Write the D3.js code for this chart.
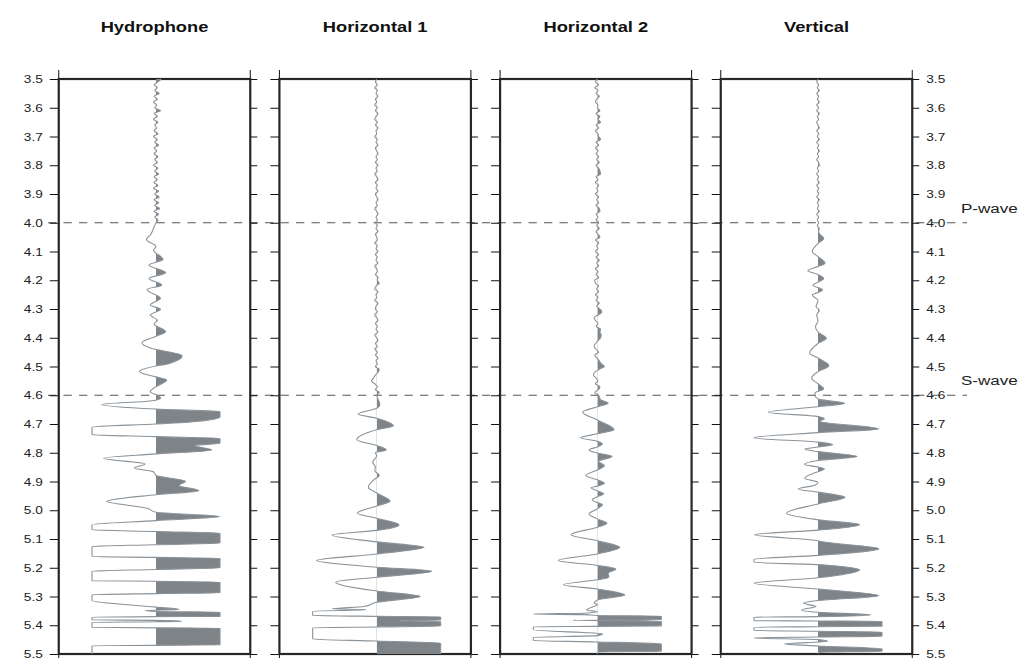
<!DOCTYPE html>
<html>
<head>
<meta charset="utf-8">
<script src="https://cdn.jsdelivr.net/npm/d3@7"></script>
<style>
  body { margin: 0; background: #fff; }
  svg { display: block; }
  text { font-family: "Liberation Sans", Arial, Helvetica, sans-serif; }
</style>
</head>
<body>
<svg id="chart" width="1023" height="663"></svg>
<script>
const channels = ["Hydrophone", "Horizontal 1", "Horizontal 2", "Vertical"];
const timeTicks = [3.5, 3.6, 3.7, 3.8, 3.9, 4.0, 4.1, 4.2, 4.3, 4.4, 4.5, 4.6, 4.7, 4.8, 4.9, 5.0, 5.1, 5.2, 5.3, 5.4, 5.5];
const phaseNames = ["P-wave", "S-wave"];
const phaseTimes = [4.0, 4.6];

// quiet part of each trace, one sample every 0.01 s from 3.5 s
const noiseStart = 3.5;
const noiseStep = 0.01;

const hydroNoise = [
  0.08, 0.03, -0.03, 0.02, -0.02, 0.05, -0.03, 0.02, -0.04, 0.01,
  -0.02, 0.07, -0.03, 0.02, -0.04, 0.03, -0.02, 0.01, -0.03, 0.03,
  -0.04, 0.02, -0.02, 0.04, -0.03, 0.01, -0.03, 0.03, -0.02, 0.02,
  -0.04, 0.03, -0.02, 0.04, -0.03, 0.02, -0.03, 0.03, -0.04, 0.04,
  -0.02, 0.05, -0.03, 0.04, -0.02, 0.06, -0.03, 0.04, -0.02, 0.03,
  0.00
];
// [time, amplitude] after the quiet part; amplitude 1 = clip
const hydroPicks = [
  [4.02, -0.04], [4.04, -0.08], [4.058, -0.15], [4.083, 0.0], [4.095, -0.04], [4.128, 0.11],
  [4.147, -0.11], [4.174, 0.15], [4.194, -0.11], [4.217, 0.09], [4.232, -0.14], [4.263, 0.07],
  [4.286, -0.09], [4.301, 0.07], [4.321, -0.09], [4.339, 0.02], [4.352, -0.03], [4.379, 0.15],
  [4.395, 0.0], [4.417, -0.22], [4.435, -0.1], [4.463, 0.41], [4.49, 0.2], [4.498, 0.0],
  [4.518, -0.26], [4.536, 0.0], [4.547, 0.17], [4.556, 0.12], [4.57, 0.0], [4.588, -0.09],
  [4.603, 0.05], [4.61, 0.07], [4.62, -0.1], [4.632, -0.85], [4.648, 0], [4.657, 1],
  [4.676, 1], [4.694, 0.5], [4.70, 0], [4.711, -1], [4.737, -1], [4.744, 0], [4.75, 1],
  [4.767, 1], [4.775, 0.6], [4.79, 0.87], [4.804, 0], [4.819, -0.82], [4.839, -0.17],
  [4.853, -0.34], [4.866, -0.04], [4.879, 0], [4.899, 0.46], [4.914, 0.36], [4.932, 0.67],
  [4.946, 0], [4.969, -0.77], [4.993, -0.14], [5.007, 0], [5.022, 1], [5.036, 0], [5.05, -1],
  [5.068, -1], [5.074, 0], [5.08, 1], [5.114, 1], [5.12, 0], [5.126, -1], [5.161, -1],
  [5.164, 0], [5.167, 1], [5.20, 1], [5.206, 0], [5.212, -1], [5.245, -1], [5.247, 0],
  [5.25, 1], [5.287, 1], [5.29, 0], [5.294, -1], [5.314, -1], [5.337, 0], [5.345, 0.36],
  [5.349, -0.17], [5.352, 0], [5.354, 1], [5.369, 1], [5.37, 0], [5.372, -1], [5.381, -1],
  [5.383, 0], [5.386, 0.4], [5.388, 0], [5.39, -1], [5.407, -1], [5.409, 0], [5.41, 1],
  [5.468, 1], [5.47, 0], [5.471, -1], [5.5, -1]
];

const h1Noise = [
  0.00, -0.02, 0.01, -0.03, 0.01, -0.01, 0.02, -0.02, 0.00, -0.03,
  0.01, -0.02, 0.02, -0.01, -0.03, 0.01, -0.02, 0.02, -0.01, 0.00,
  -0.03, 0.01, -0.01, 0.02, -0.02, 0.00, 0.02, -0.01, 0.01, -0.02,
  0.02, -0.01, 0.01, -0.03, 0.00, 0.02, -0.02, 0.01, -0.01, 0.02,
  -0.02, 0.00, 0.02, -0.01, 0.01, -0.03, 0.00, 0.02, -0.01, 0.01,
  -0.02, 0.01, -0.01, 0.02, -0.02, 0.00, 0.01, -0.03, 0.01, -0.01,
  0.02, -0.02, 0.01, -0.01, 0.02, -0.03, 0.00, 0.01, -0.02, 0.02,
  0.01, 0.04, -0.01, -0.03, 0.02, -0.01, 0.00, -0.03, 0.02, -0.01,
  -0.02, 0.01, -0.03, 0.00, 0.02, -0.02, 0.01, -0.01, 0.02, -0.03,
  0.00, 0.02, -0.02, 0.01, -0.03, 0.01, -0.02, 0.02, -0.01, 0.01,
  -0.02, 0.04, 0.02, -0.02, -0.05, -0.08, -0.03, 0.01, -0.02, 0.04,
  0.00
];
const h1Picks = [
  [4.632, 0.05], [4.645, 0], [4.665, -0.29], [4.68, 0], [4.706, 0.26], [4.72, 0],
  [4.755, -0.31], [4.775, 0], [4.79, 0.15], [4.80, -0.02], [4.81, 0.0], [4.833, -0.06],
  [4.85, -0.02], [4.862, -0.03], [4.879, 0.04], [4.895, -0.05], [4.92, -0.13], [4.94, 0],
  [4.969, 0.21], [4.985, 0], [5.01, -0.30], [5.028, 0], [5.051, 0.35], [5.07, 0],
  [5.086, -0.70], [5.11, 0], [5.129, 0.74], [5.152, 0], [5.175, -0.94], [5.198, 0],
  [5.212, 0.86], [5.233, 0], [5.25, -0.64], [5.281, 0], [5.30, 0.68], [5.32, 0],
  [5.335, -0.2], [5.343, -0.69], [5.346, -0.16], [5.351, -1], [5.366, -1], [5.369, 0],
  [5.371, 1], [5.382, 1], [5.384, 0.36], [5.387, 1], [5.403, 1], [5.406, 0], [5.409, -1],
  [5.448, -1], [5.455, 0], [5.462, 1], [5.5, 1]
];

const h2Noise = [
  0.00, -0.03, 0.02, -0.04, 0.01, -0.02, 0.03, -0.01, -0.03, 0.01,
  0.00, 0.04, -0.02, 0.04, 0.01, 0.05, -0.02, 0.02, -0.03, 0.01,
  0.02, 0.05, -0.02, 0.02, -0.03, 0.01, -0.02, 0.02, -0.01, 0.03,
  -0.02, 0.02, 0.04, 0.05, -0.02, 0.01, -0.03, 0.02, -0.01, 0.01,
  -0.03, 0.02, -0.01, 0.02, -0.02, 0.03, 0.04, -0.02, 0.01, -0.02,
  0.02, -0.01, 0.03, -0.02, 0.01, 0.04, -0.03, 0.02, -0.01, 0.01,
  -0.03, 0.02, -0.02, 0.03, -0.01, 0.02, -0.03, 0.01, -0.02, 0.02,
  -0.04, -0.03, 0.02, -0.01, 0.02, -0.03, 0.01, -0.02, 0.03, -0.01,
  0.04, 0.07, 0.02, -0.05, -0.03, 0.01, -0.02, 0.05, 0.04, 0.06,
  0.05, 0.01, -0.03, -0.05, -0.02, 0.02, -0.04, -0.01, 0.03, 0.06,
  0.11, 0.03, -0.04, -0.06, -0.02, 0.01, -0.03, 0.04, 0.02, -0.04,
  0.02
];
const h2Picks = [
  [4.615, 0.05], [4.628, 0.17], [4.64, 0], [4.659, -0.23], [4.686, 0], [4.72, 0.26],
  [4.734, 0], [4.748, -0.26], [4.76, 0], [4.769, 0.08], [4.78, 0], [4.79, -0.13],
  [4.801, 0], [4.813, 0.23], [4.83, 0.02], [4.845, 0.11], [4.86, 0], [4.879, -0.18],
  [4.894, 0], [4.906, 0.11], [4.916, 0], [4.922, -0.1], [4.932, 0], [4.943, 0.1],
  [4.953, 0], [4.964, -0.08], [4.973, 0], [4.981, 0.08], [4.995, 0], [5.013, -0.13],
  [5.03, 0], [5.045, 0.15], [5.059, 0], [5.085, -0.41], [5.106, 0], [5.129, 0.35],
  [5.152, 0], [5.175, -0.61], [5.192, 0], [5.204, 0.29], [5.219, 0.17], [5.233, 0.18],
  [5.242, 0], [5.259, -0.53], [5.274, 0], [5.295, 0.43], [5.312, 0], [5.323, -0.05],
  [5.328, 0.0], [5.347, -0.17], [5.353, 0], [5.358, -0.2], [5.361, -1], [5.363, -0.2],
  [5.366, 0], [5.368, 1], [5.381, 1], [5.383, -0.38], [5.386, 1], [5.402, 1], [5.404, 0],
  [5.405, -1], [5.416, -1], [5.43, 0.08], [5.436, 0], [5.442, -1], [5.453, -1], [5.458, 0],
  [5.465, 1], [5.49, 1], [5.493, 0], [5.5, 0]
];

const vertNoise = [
  0.00, -0.02, 0.01, -0.01, 0.02, -0.02, 0.01, -0.01, 0.02, -0.02,
  0.01, -0.02, 0.02, -0.01, 0.01, -0.02, 0.00, 0.02, -0.02, 0.01,
  -0.01, 0.02, -0.02, 0.01, -0.01, 0.02, -0.01, 0.01, -0.02, 0.01,
  0.02, -0.01, 0.01, -0.02, 0.01, -0.01, 0.02, -0.02, 0.01, -0.01,
  0.01, -0.02, 0.02, -0.01, 0.01, -0.01, 0.02, -0.02, 0.01, -0.01,
  0.01, -0.01, 0.02, 0.01
];
const vertPicks = [
  [4.04, 0.03], [4.055, 0.09], [4.072, 0], [4.10, -0.09], [4.118, 0], [4.141, 0.11],
  [4.152, 0], [4.167, -0.16], [4.18, 0], [4.194, 0.09], [4.21, -0.03], [4.217, -0.08],
  [4.234, 0.07], [4.252, -0.09], [4.27, 0], [4.292, -0.03], [4.304, 0.02], [4.321, -0.02],
  [4.34, 0], [4.362, -0.04], [4.38, 0], [4.402, 0.13], [4.42, 0], [4.454, -0.13],
  [4.47, 0], [4.497, 0.17], [4.518, 0], [4.541, -0.1], [4.56, 0], [4.578, 0.09],
  [4.592, -0.05], [4.60, -0.05], [4.613, 0], [4.628, 0.42], [4.64, 0], [4.659, -0.78],
  [4.674, 0], [4.682, 0.1], [4.69, 0.03], [4.717, 0.95], [4.73, 0], [4.748, -1.0],
  [4.763, 0], [4.772, 0.23], [4.78, 0], [4.787, -0.21], [4.796, 0], [4.813, 0.61],
  [4.827, 0], [4.841, -0.21], [4.85, 0], [4.856, 0.1], [4.872, -0.08], [4.889, -0.21],
  [4.903, 0], [4.913, -0.05], [4.926, -0.31], [4.937, 0], [4.955, 0.42], [4.978, 0],
  [5.01, -0.49], [5.033, 0], [5.05, 0.65], [5.069, 0], [5.085, -0.99], [5.106, 0],
  [5.109, 0.05], [5.134, 0.95], [5.157, 0], [5.171, -1], [5.181, -1], [5.189, 0],
  [5.208, 0.65], [5.227, 0.29], [5.235, 0], [5.254, -1], [5.274, 0], [5.297, 0.95],
  [5.314, 0], [5.323, -0.23], [5.335, -0.03], [5.347, -0.26], [5.355, 0], [5.364, 0.82],
  [5.37, 0], [5.372, -1], [5.384, -1], [5.385, 0], [5.386, 1], [5.403, 1], [5.405, 0],
  [5.407, -1], [5.418, -1], [5.421, 0], [5.424, 1], [5.438, 1], [5.441, 0], [5.444, -1],
  [5.45, 0], [5.456, 0.15], [5.465, -0.52], [5.472, 0], [5.482, 1], [5.49, 1], [5.494, 0],
  [5.5, 0]
];

const traceNoise = [hydroNoise, h1Noise, h2Noise, vertNoise];
const tracePicks = [hydroPicks, h1Picks, h2Picks, vertPicks];

function buildTrace(noise, picks) {
  const pts = noise.map((a, i) => ({t: noiseStart + i * noiseStep, a: a}));
  picks.forEach(p => pts.push({t: p[0], a: p[1]}));
  return pts;
}

// ---- layout ----
const svg = d3.select('#chart');
const plotTop = 79, plotBottom = 654;
const halfWidth = 95.75;
const clipAmp = 64;
const traceOffset = 1.5;

const yScale = d3.scaleLinear().domain([3.5, 5.5]).range([plotTop, plotBottom]);
const panelX = d3.scalePoint().domain(channels).range([154.5, 816.5]);
const ampScale = d3.scaleLinear().domain([-1, 1]).range([-clipAmp, clipAmp]).clamp(true);

const fillColor = '#7f8489';
const lineColor = '#8a939a';
const frameColor = '#262626';

// phase lines (drawn first so traces sit on top)
const phaseG = svg.append('g');
phaseTimes.forEach((t, i) => {
  phaseG.append('line')
    .attr('x1', 48).attr('x2', 967)
    .attr('y1', yScale(t)).attr('y2', yScale(t))
    .style('stroke', '#555')
    .style('stroke-width', 1.1)
    .style('stroke-dasharray', '8.3,7.2');
  phaseG.append('text')
    .classed('stretch', true)
    .attr('data-stretch', 1.42)
    .attr('x', 961)
    .attr('y', yScale(t) - 10)
    .style('font-size', '12px')
    .style('fill', '#222')
    .text(phaseNames[i]);
});

channels.forEach((name, i) => {
  const cx = panelX(name);
  const g = svg.append('g').attr('transform', `translate(${cx},0)`);
  const base = traceOffset;

  // axes on both sides of every panel, labels only on the outer ones
  const leftAxis = g.append('g')
    .attr('transform', `translate(${-halfWidth},0)`)
    .call(d3.axisLeft(yScale).tickValues(timeTicks).tickSize(9).tickPadding(7)
      .tickFormat(i === 0 ? d3.format('.1f') : () => ''));
  const rightAxis = g.append('g')
    .attr('transform', `translate(${halfWidth},0)`)
    .call(d3.axisRight(yScale).tickValues(timeTicks).tickSize(7).tickPadding(7)
      .tickFormat(i === channels.length - 1 ? d3.format('.1f') : () => ''));
  [leftAxis, rightAxis].forEach(ax => {
    ax.select('.domain').remove();
    ax.selectAll('line').style('stroke', '#111');
    ax.selectAll('text')
      .classed('stretch', true)
      .attr('data-stretch', 1.24)
      .style('font-family', '"Liberation Sans", Arial, sans-serif')
      .style('font-size', '11px')
      .style('fill', '#222');
  });

  // small ticks at the frame corners
  [-halfWidth, halfWidth].forEach(x => {
    g.append('line').attr('x1', x).attr('x2', x)
      .attr('y1', plotTop - 9).attr('y2', plotTop).style('stroke', '#111');
    g.append('line').attr('x1', x).attr('x2', x)
      .attr('y1', plotBottom).attr('y2', plotBottom + 4).style('stroke', '#111');
  });

  g.append('rect')
    .attr('x', -halfWidth).attr('y', plotTop)
    .attr('width', halfWidth * 2).attr('height', plotBottom - plotTop)
    .style('fill', 'none')
    .style('stroke', frameColor)
    .style('stroke-width', 2.2);

  const data = buildTrace(traceNoise[i], tracePicks[i]);

  const clipId = `pos-clip-${i}`;
  g.append('clipPath').attr('id', clipId)
    .append('rect')
    .attr('x', base).attr('y', plotTop)
    .attr('width', clipAmp + 4).attr('height', plotBottom - plotTop);

  const area = d3.area()
    .y(d => yScale(d.t))
    .x0(base)
    .x1(d => base + ampScale(d.a))
    .curve(d3.curveMonotoneY);

  const line = d3.line()
    .y(d => yScale(d.t))
    .x(d => base + ampScale(d.a))
    .curve(d3.curveMonotoneY);

  g.append('path')
    .datum(data)
    .attr('d', area)
    .attr('clip-path', `url(#${clipId})`)
    .style('fill', fillColor);

  g.append('path')
    .datum(data)
    .attr('d', line)
    .style('fill', 'none')
    .style('stroke', lineColor)
    .style('stroke-width', 1.1)
    .style('stroke-linejoin', 'round');

  g.append('text')
    .classed('stretch', true)
    .attr('data-stretch', 1.22)
    .attr('x', 0)
    .attr('y', 32)
    .style('text-anchor', 'middle')
    .style('font-size', '15px')
    .style('font-weight', 'bold')
    .style('fill', '#111')
    .text(name);
});

// the original figure is a little wider than tall: stretch the text to match
svg.selectAll('text.stretch').each(function () {
  const w = this.getComputedTextLength();
  const k = +this.getAttribute('data-stretch');
  if (w > 0) {
    d3.select(this).attr('textLength', w * k).attr('lengthAdjust', 'spacingAndGlyphs');
  }
});
</script>
</body>
</html>
